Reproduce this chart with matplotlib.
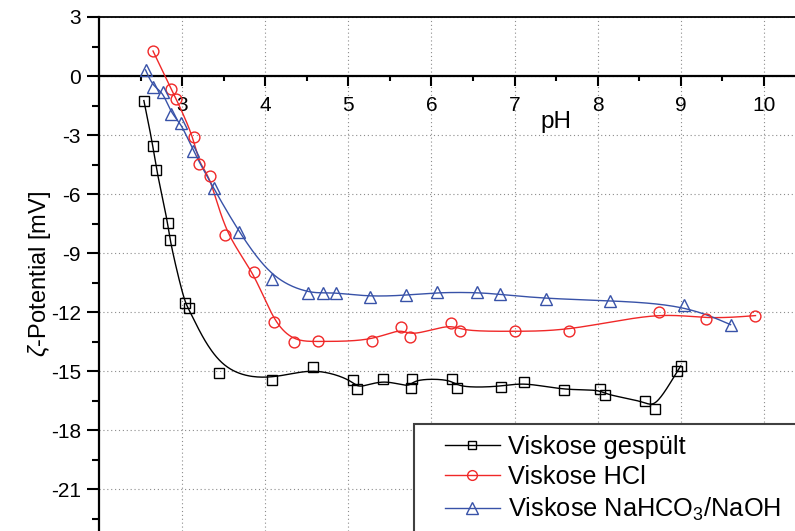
import numpy as np
import matplotlib
matplotlib.use("Agg")
import matplotlib.pyplot as plt
from matplotlib.patches import Rectangle
from matplotlib.ticker import MultipleLocator

plt.rcParams['font.family'] = 'Liberation Sans'
plt.rcParams['mathtext.fontset'] = 'custom'
plt.rcParams['mathtext.rm'] = 'Liberation Sans'
plt.rcParams['mathtext.it'] = 'Liberation Sans:italic'
plt.rcParams['axes.unicode_minus'] = False

# Messwerte: pH und Zeta-Potential [mV]
ph_gespuelt = [2.54, 2.65, 2.69, 2.83, 2.85, 3.03, 3.08, 3.45, 4.08, 4.57, 5.06, 5.11,
               5.42, 5.75, 5.77, 6.25, 6.31, 6.84, 7.11, 7.59, 8.03, 8.09, 8.57, 8.69,
               8.96, 9.00]
zeta_gespuelt = [-1.25, -3.54, -4.78, -7.46, -8.35, -11.55, -11.8, -15.12, -15.47, -14.78,
                 -15.47, -15.93, -15.39, -15.88, -15.40, -15.40, -15.85, -15.80, -15.56,
                 -15.98, -15.93, -16.20, -16.54, -16.91, -15.00, -14.74]

ph_hcl = [2.65, 2.87, 2.93, 3.14, 3.20, 3.34, 3.52, 3.87, 4.10, 4.35, 4.64, 5.28, 5.64,
          5.74, 6.24, 6.35, 7.01, 7.66, 8.74, 9.30, 9.90]
zeta_hcl = [1.27, -0.68, -1.17, -3.12, -4.47, -5.07, -8.08, -9.98, -12.52, -13.51, -13.49,
            -13.49, -12.78, -13.27, -12.57, -12.98, -12.98, -12.96, -11.98, -12.37, -12.18]

ph_naoh = [2.56, 2.65, 2.77, 2.87, 2.99, 3.13, 3.38, 3.68, 4.08, 4.51, 4.70, 4.85, 5.26,
           5.69, 6.07, 6.55, 6.82, 7.38, 8.15, 9.04, 9.60]
zeta_naoh = [0.31, -0.54, -0.80, -1.93, -2.40, -3.80, -5.71, -7.92, -10.32, -11.02, -11.02,
             -11.02, -11.22, -11.15, -11.00, -11.00, -11.10, -11.32, -11.42, -11.63, -12.64]

labels = ['Viskose gespült', 'Viskose HCl', 'Viskose NaHCO$_3$/NaOH']
x_ticks = [3, 4, 5, 6, 7, 8, 9, 10]
y_ticks = [3, 0, -3, -6, -9, -12, -15, -18, -21]


def bspline(x, y, n=30):
    # kubischer B-Spline mit den Messpunkten als Kontrollpunkte (Enden festgehalten)
    pts = np.column_stack([x, y])
    pts = np.vstack([pts[:1], pts[:1], pts, pts[-1:], pts[-1:]])
    t = np.linspace(0, 1, n, endpoint=False)
    b0 = (1 - t) ** 3 / 6
    b1 = (3 * t ** 3 - 6 * t ** 2 + 4) / 6
    b2 = (-3 * t ** 3 + 3 * t ** 2 + 3 * t + 1) / 6
    b3 = t ** 3 / 6
    segs = []
    for i in range(len(pts) - 3):
        p = pts[i:i + 4]
        segs.append(np.outer(b0, p[0]) + np.outer(b1, p[1]) + np.outer(b2, p[2]) + np.outer(b3, p[3]))
    segs.append(pts[-1:])
    c = np.vstack(segs)
    return c[:, 0], c[:, 1]


fig = plt.figure(figsize=(7.95, 5.31), dpi=100)
ax = fig.add_axes([99 / 795, 0, 696 / 795, 514 / 531])

series = [
    (ph_gespuelt, zeta_gespuelt, 'black', 's', 7.0),
    (ph_hcl, zeta_hcl, '#f02828', 'o', 7.8),
    (ph_naoh, zeta_naoh, '#3852a8', '^', 8.8),
]
handles = []
for (px, py, col, mk, ms), lab in zip(series, labels):
    sx, sy = bspline(px, py)
    ax.plot(sx, sy, color=col, lw=1.0, zorder=3)
    ax.plot(px, py, ls='none', marker=mk, ms=ms, mfc='none', mec=col, mew=1.0, zorder=4)
    h, = ax.plot([], [], color=col, lw=1.0, marker=mk, ms=ms * 0.9, mfc='none', mec=col, mew=1.0)
    h.set_label(lab)
    handles.append(h)

ax.set_xlim(2, 2 + 696 / 83.1)
ax.set_ylim(3 - 514 / 19.67, 3)

ax.spines['bottom'].set_position(('data', 0))
ax.spines['right'].set_visible(False)
ax.spines['bottom'].set_linewidth(1.6)
ax.spines['left'].set_linewidth(1.6)
ax.spines['top'].set_linewidth(1.3)

ax.set_xticks(x_ticks)
ax.set_xticklabels([str(v) for v in x_ticks])
ax.set_yticks(y_ticks)
ax.set_yticklabels([str(v) for v in y_ticks])
ax.xaxis.set_minor_locator(MultipleLocator(0.5))
ax.yaxis.set_minor_locator(MultipleLocator(1.5))
ax.tick_params(axis='x', which='major', direction='out', length=7.5, width=1.5, labelsize=15, pad=7)
ax.tick_params(axis='x', which='minor', direction='out', length=3.5, width=1.5)
ax.tick_params(axis='y', which='major', direction='out', length=9, width=1.5, labelsize=15, pad=4)
ax.tick_params(axis='y', which='minor', direction='out', length=5, width=1.5)
ax.set_axisbelow(True)
ax.grid(True, which='major', ls=(0, (1, 2.5)), color='#8c8c8c', lw=0.8)

ax.set_xlabel('pH', fontsize=17.5)
ax.xaxis.set_label_coords((556 - 99) / 696, 1 - (111 - 17) / 514)
ax.set_ylabel('$\\zeta$-Potential [mV]', fontsize=17)
ax.yaxis.set_label_coords(-0.066, 0.5)

# Legendenrahmen reicht ueber den Bildrand hinaus
frame = Rectangle((414 / 795, -0.1), 0.5, (531 - 424) / 531 + 0.1, transform=fig.transFigure,
                  facecolor='white', edgecolor='#404040', lw=1.5, zorder=5, clip_on=False)
ax.add_patch(frame)
leg = ax.legend(handles=handles, loc='upper left', bbox_to_anchor=(445 / 795, 1 - 435 / 531),
                bbox_transform=fig.transFigure, frameon=False, fontsize=18.3, handlelength=2.15,
                handletextpad=0.33, labelspacing=0.25, borderpad=0, borderaxespad=0, numpoints=1)
leg.set_zorder(6)

fig.savefig('out.png', dpi=100)
